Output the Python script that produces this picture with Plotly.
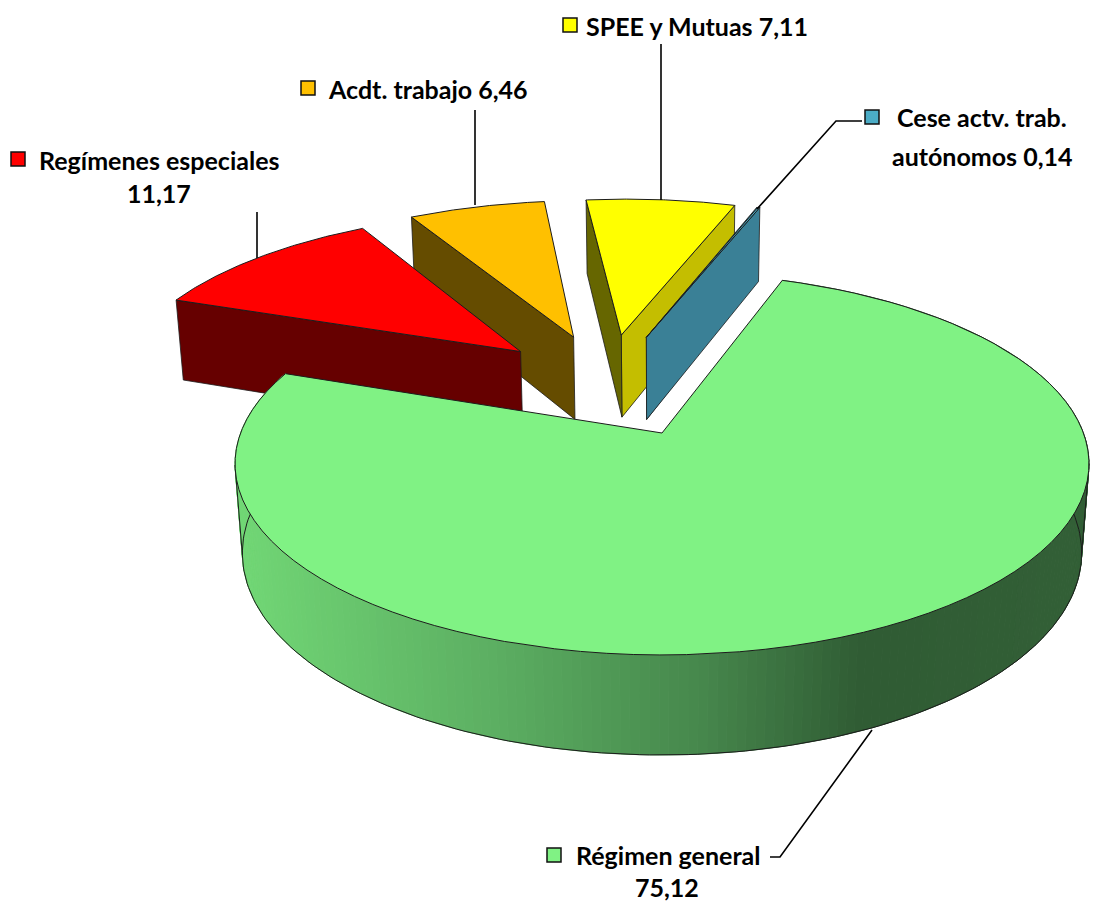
import numpy as np
import plotly.graph_objects as go

# ---- data ----
categories = ["Régimen general", "Regímenes especiales", "Acdt. trabajo", "SPEE y Mutuas", "Cese actv. trab. autónomos"]
values = [75.12, 11.17, 6.46, 7.11, 0.14]
value_labels = ["75,12", "11,17", "6,46", "7,11", "0,14"]
top_colors = ["#80F284", "#FF0000", "#FFC000", "#FFFF00", "#4BACC6"]
face_colors = ["#4F9A52", "#660000", "#654C00", "#666600", "#3A8096"]
face_colors_end = ["#4F9A52", "#660000", "#654C00", "#C4BE00", "#3A8096"]

# ---- camera / style ----
START = 19.2
CX, CY = 662.0, 433.0
A, B, K = 421.4, 186.2, -0.161
H, M = 89.4, 0.017
EXPLODE = [0.314, 0.293, 0.293, 0.293, 0.293]
RADIUS = [1.0, 1.0, 1.0, 1.0, 1.0]
FONT = dict(family="Lato, Carlito, sans-serif", size=25, color="#000000")
GRAD_X = [236, 500, 700, 860, 1095]
GRAD_C = [(0x72, 0xD8, 0x76), (0x5C, 0xAE, 0x62), (0x47, 0x88, 0x4D), (0x30, 0x5C, 0x34), (0x33, 0x60, 0x37)]
OUTLINE = "#1c1c1c"


def proj(X, Y, d=0.0):
    X, Y = np.asarray(X, float), np.asarray(Y, float)
    w = 1 + K * Y + M * d
    return CX + A * X / w, CY + (B * Y + H * d) / w


spans = np.array(values) / sum(values) * 360
starts = START + np.concatenate([[0], np.cumsum(spans)[:-1]])
mids = starts + spans / 2
main_dir = np.radians(mids[0])
center = (-EXPLODE[0] * np.sin(main_dir), EXPLODE[0] * np.cos(main_dir))


def apex(i):
    t = np.radians(mids[i])
    return center[0] + EXPLODE[i] * np.sin(t), center[1] - EXPLODE[i] * np.cos(t)


def arc(i, n=90):
    t = np.radians(np.linspace(starts[i], starts[i] + spans[i], n))
    ax, ay = apex(i)
    return ax + RADIUS[i] * np.sin(t), ay - RADIUS[i] * np.cos(t)


fig = go.Figure()


def poly(x, y, fill, line=None, width=1.0):
    fig.add_trace(go.Scatter(
        x=list(x) + [x[0]], y=list(y) + [y[0]], mode="lines", fill="toself", fillcolor=fill,
        line=dict(color=line or fill, width=width), hoverinfo="skip", showlegend=False))


def face(i, which, color):
    ax, ay = apex(i)
    X, Y = arc(i)
    j = 0 if which == "start" else -1
    px = [ax, X[j], X[j], ax]
    py = [ay, Y[j], Y[j], ay]
    ds = [0, 0, 1, 1]
    sx, sy = zip(*[tuple(map(float, proj(a, b, c))) for a, b, c in zip(px, py, ds)])
    poly(sx, sy, color, OUTLINE, 0.8)


def top(i):
    ax, ay = apex(i)
    X, Y = arc(i)
    sx, sy = proj(np.r_[ax, X], np.r_[ay, Y])
    poly(sx, sy, top_colors[i], OUTLINE, 1.0)


# painter's order: back slices first
for i in [2, 3, 4, 1]:
    if i == 3:
        face(i, "end", face_colors_end[i])
        face(i, "start", face_colors[i])
    elif i == 4:
        face(i, "start", face_colors[i])
        face(i, "end", face_colors_end[i])
    else:
        face(i, "start", face_colors[i])
    top(i)

# main outer wall with shaded gradient
X, Y = arc(0, 241)
for j in range(len(X) - 1):
    x0, y0 = proj(X[j:j + 2], Y[j:j + 2], 0)
    x1, y1 = proj(X[j:j + 2], Y[j:j + 2], 1)
    xm = float((x0.mean() + x1.mean()) / 2)
    c = [int(np.interp(xm, GRAD_X, [g[k] for g in GRAD_C])) for k in range(3)]
    col = f"rgb({c[0]},{c[1]},{c[2]})"
    poly([x0[0], x0[1], x1[1], x1[0]], [y0[0], y0[1], y1[1], y1[0]], col, col, 1.0)
bx, by = proj(X, Y, 1)
tx0, ty0 = proj(X, Y, 0)
fig.add_trace(go.Scatter(x=bx, y=by, mode="lines", line=dict(color=OUTLINE, width=1), hoverinfo="skip", showlegend=False))
# silhouette edges at the extremes of the wall
for j in (int(np.argmin(tx0)), int(np.argmax(tx0))):
    fig.add_trace(go.Scatter(x=[tx0[j], bx[j]], y=[ty0[j], by[j]], mode="lines",
                             line=dict(color=OUTLINE, width=1), hoverinfo="skip", showlegend=False))
top(0)

# leader lines
LEADERS = [
    ([770, 780, 872], [857, 857, 730]),
    ([257, 257], [212, 258]),
    ([475, 475], [110, 205]),
    ([661, 661], [44, 200]),
    ([862, 836, 757], [121, 121, 209]),
]
for lx, ly in LEADERS:
    fig.add_trace(go.Scatter(x=lx, y=ly, mode="lines", line=dict(color="#000000", width=1.6), hoverinfo="skip", showlegend=False))

# legend keys
KEY_POS = [(554, 855), (18, 159), (308, 88), (570, 25), (872, 117)]
for (kx, ky), col in zip(KEY_POS, top_colors):
    fig.add_trace(go.Scatter(x=[kx], y=[ky], mode="markers", hoverinfo="skip", showlegend=False,
                             marker=dict(symbol="square", size=14, color=col, line=dict(color="#111111", width=1.5))))

# texts
texts = [
    (categories[0], 668, 855), (value_labels[0], 667, 887),
    ("Regímenes especiales", 159, 160), (value_labels[1], 159, 193),
    (f"{categories[2]} {value_labels[2]}", 428, 89),
    (f"{categories[3]} {value_labels[3]}", 697, 26),
    ("Cese actv. trab.", 982, 117), (f"autónomos {value_labels[4]}", 982, 156),
]
for t, tx, ty in texts:
    fig.add_annotation(x=tx, y=ty, text=f"<b>{t}</b>", showarrow=False, font=FONT, xanchor="center", yanchor="middle")

fig.update_layout(
    width=1097, height=911, margin=dict(l=0, r=0, t=0, b=0), paper_bgcolor="white", plot_bgcolor="white",
    xaxis=dict(range=[0, 1097], visible=False, fixedrange=True),
    yaxis=dict(range=[911, 0], visible=False, fixedrange=True),
    showlegend=False,
)
fig.write_html("out.html", post_script="document.body.style.margin='0';document.body.style.overflow='hidden';",
               config=dict(displayModeBar=False))
